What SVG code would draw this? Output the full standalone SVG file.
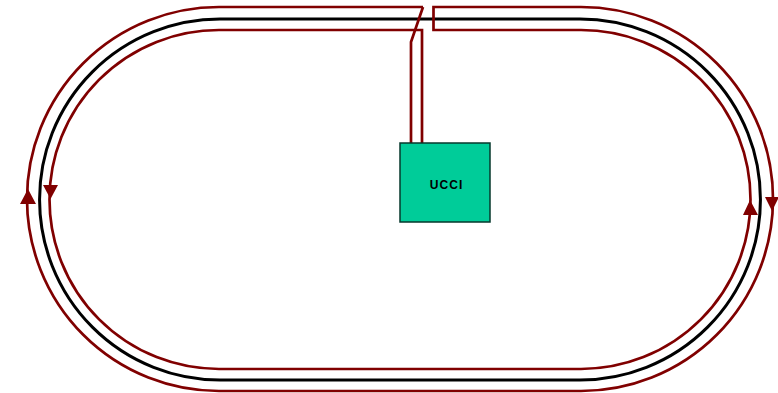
<svg xmlns="http://www.w3.org/2000/svg" width="778" height="393" viewBox="0 0 778 393">
<style>
.r{fill:none;stroke:#800000;stroke-width:2.7}
.k{fill:none;stroke:#000;stroke-width:3}
.a{fill:#800000}
text{font-family:"Liberation Sans",Arial,sans-serif;font-size:12px;font-weight:bold;letter-spacing:1.100px;fill:#000}
</style>
<rect width="778" height="393" fill="#fff"/>
<g id="connectors">
<path class="k" d="M220 19H580A180.500 180.500 0 0 1 580 380H220A180.500 180.500 0 0 1 220 19Z"/>
<path class="r" d="M423 7H219A192 192 0 0 0 219 391H581A192 192 0 0 0 581 7H433.500V30H581A169.500 169.500 0 0 1 581 369H219A169.500 169.500 0 0 1 219 30H422V143"/>
<path class="r" d="M411 143V42L423 7"/>
<path class="a" d="M28 189L36 204H20Z"/>
<path class="a" d="M50.500 199L43 185H58Z"/>
<path class="a" d="M750 200L758 215H743Z"/>
<path class="a" d="M772 211L765 197H779Z"/>
</g>
<g id="ucci">
<rect x="400" y="143" width="90" height="79" fill="#00cc99" stroke="#06382c" stroke-width="1.500"/>
<text x="446.500" y="189" text-anchor="middle">UCCI</text>
</g>
</svg>
